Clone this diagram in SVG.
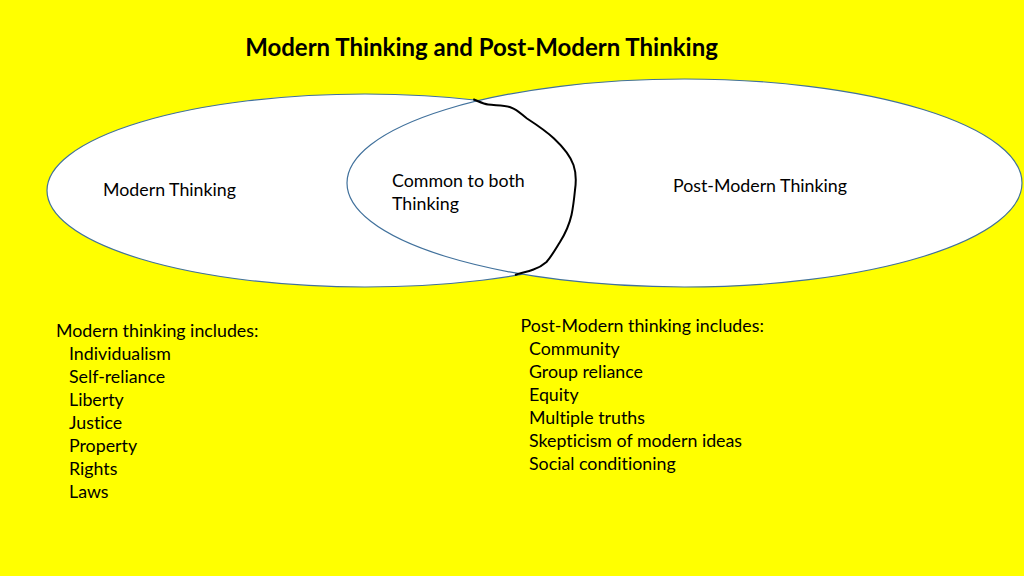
<svg xmlns="http://www.w3.org/2000/svg" width="1024" height="576" viewBox="0 0 1024 576">
<style>
.t{font-family:Lato,"Open Sans","Liberation Sans",sans-serif;font-size:17.8px;fill:#000;font-variant-ligatures:none}
.title{font-family:Lato,"Open Sans","Liberation Sans",sans-serif;font-size:24px;font-weight:bold;fill:#000;font-variant-ligatures:none}
.ell{fill:#fff;stroke:#41719C;stroke-width:1.2}
</style>
<rect x="0" y="0" width="1024" height="576" fill="#FFFF00"/>
<text class="title" x="481.5" y="55.5" text-anchor="middle">Modern Thinking and Post-Modern Thinking</text>
<g id="modern">
<ellipse class="ell" cx="365" cy="190.5" rx="318" ry="96.5"/>
<text class="t" x="103" y="196">Modern Thinking</text>
</g>
<g id="postmodern">
<ellipse class="ell" cx="684.5" cy="183" rx="337.5" ry="104"/>
<text class="t" x="673" y="192">Post-Modern Thinking</text>
</g>
<g id="common">
<path d="M473.3,99.3 C480,102 484,104 488,104.5 C496,105.5 505,105 511,107.5 C518,110 522,115 527,118.5 C537,125 546,131 554,138.5 C562,146 570,155 573.5,165 C577,175 576,183 575,190 C574,200 573,208 571.5,215 C569,226 565,234 560,242 C555,250 551,257 546.5,262 C542,266 538,268 533.5,269.5 C527,272 520,273 515,275" fill="none" stroke="#000" stroke-width="2"/>
<text class="t" x="392" y="187">Common to both</text>
<text class="t" x="392" y="210">Thinking</text>
</g>
<g id="modern-list">
<text class="t" x="56" y="337">Modern thinking includes:</text>
<text class="t" x="69" y="360">Individualism</text>
<text class="t" x="69" y="383">Self-reliance</text>
<text class="t" x="69" y="406">Liberty</text>
<text class="t" x="69" y="429">Justice</text>
<text class="t" x="69" y="452">Property</text>
<text class="t" x="69" y="475">Rights</text>
<text class="t" x="69" y="498">Laws</text>
</g>
<g id="postmodern-list">
<text class="t" x="520.5" y="332">Post-Modern thinking includes:</text>
<text class="t" x="529" y="355">Community</text>
<text class="t" x="529" y="378">Group reliance</text>
<text class="t" x="529" y="401">Equity</text>
<text class="t" x="529" y="424">Multiple truths</text>
<text class="t" x="529" y="447">Skepticism of modern ideas</text>
<text class="t" x="529" y="470">Social conditioning</text>
</g>
<g id="connectors"></g>
</svg>
